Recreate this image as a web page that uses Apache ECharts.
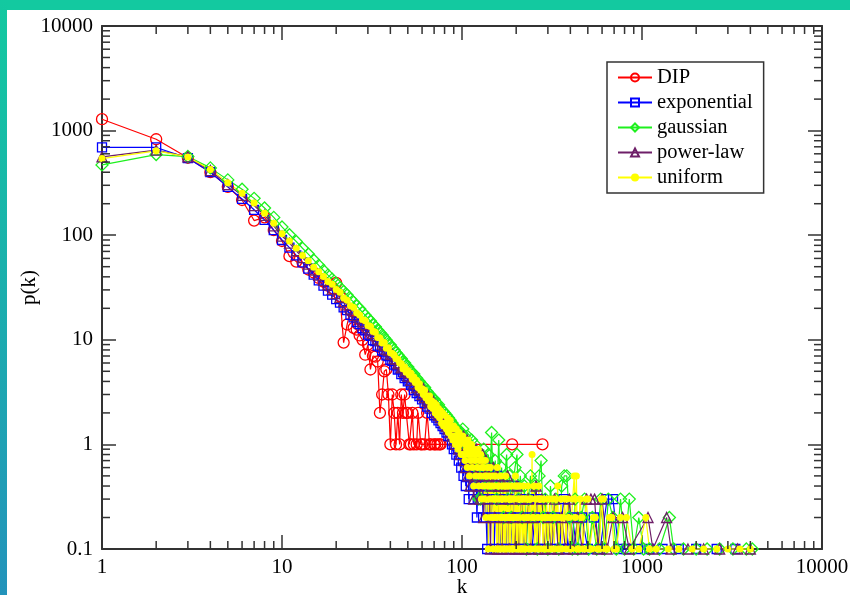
<!DOCTYPE html>
<html><head><meta charset="utf-8">
<script src="https://cdn.jsdelivr.net/npm/echarts@6/dist/echarts.min.js"></script>
<style>
html,body{margin:0;padding:0;background:#fff;}
#wrap{position:relative;width:850px;height:595px;overflow:hidden;background:#fff;}
#topbar{position:absolute;left:0;top:0;width:850px;height:10px;background:#13c9a0;}
#leftbar{position:absolute;left:0;top:0;width:7px;height:595px;background:linear-gradient(#13c9a0,#2393bb);}
#chart{position:absolute;left:0;top:0;width:850px;height:595px;}
</style></head>
<body><div id="wrap"><div id="topbar"></div><div id="leftbar"></div><div id="chart"></div></div>
<script>
// ---- tick labels ----
const xTicks = [1, 10, 100, 1000, 10000];
const yTicks = [0.1, 1, 10, 100, 1000, 10000];
const seriesNames = ['DIP', 'exponential', 'gaussian', 'power-law', 'uniform'];

// ---- DIP: [k, p(k)] ----
const dip = [[1,1285],[2,827],[3,550],[4,400],[5,290],[6,217],[7,138],[8,148],[9,112],[10,88],
[11,63],[12,56],[13,55],[14,47],[15,44],[16,39],[17,36],[18,33],[19,31],[20,35],
[21,26],[22,9.4],[23,14],[24,19],[25,13],[26,12.5],[27,11],[28,10],[29,7.2],[30,9],
[31,5.2],[32,7],[33,6.9],[34,6.2],[35,2],[36,3],[37,5],[38,5.2],[39,3],[40,1],
[41,3],[42,2],[43,1],[44,2],[45,1],[46,3],[47,2],[48,3],[49,2],[50,2],
[51,1],[52,1],[53,2],[54,1],[56,1],[57,2],[59,1],[60,1],[62,1],[64,2],[66,1],[67,1],[70,1],[71,1],[73,1],[75,1],[76,1],
[190,1],[280,1]];

// ---- exponential: p(k) for k = 1..100, then sparse tail [k, p] ----
const expoHead = [690,690,545,400,290,222,175,140,112,90,
76,64,55,48,42,37,33,29.5,27,24.5,
22.7,20.4,19.2,17.3,16.4,14.8,14.1,12.9,12.3,11.2,
10.9,9.9,9.7,8.8,8.6,7.9,7.7,7.1,7.0,6.4,
6.3,5.8,5.7,5.2,5.3,4.7,4.9,4.3,4.5,4.0,
4.1,3.7,3.8,3.3,3.6,3.1,3.3,2.9,3.1,2.7,
2.9,2.5,2.8,2.3,2.6,2.2,2.5,2.0,2.3,1.9,
2.2,1.8,2.0,1.7,1.9,1.6,1.8,1.5,1.7,1.4,
1.6,1.3,1.5,1.2,1.4,1.2,1.3,1.0,1.2,0.9,
1.1,1.0,0.8,1.1,0.9,0.7,1.0,0.8,0.6,0.9];
const expoTail = [[101,0.7],[102,0.5],[103,0.8],[104,0.6],[105,0.4],[106,0.7],[107,0.5],[108,0.8],[109,0.3],[110,0.6],
[112,0.4],[113,0.7],[115,0.5],[116,0.3],[118,0.6],[120,0.4],[121,0.2],[123,0.5],[125,0.3],[127,0.6],
[129,0.4],[131,0.2],[133,0.5],[135,0.3],[138,0.1],[140,0.4],[142,0.6],[145,0.2],[148,0.4],[151,0.1],
[154,0.3],[157,0.5],[161,0.2],[165,0.1],[168,0.3],[172,0.4],[176,0.1],[181,0.3],[186,0.2],[191,0.1],
[196,0.4],[202,0.2],[208,0.1],[214,0.3],[221,0.1],[228,0.2],[236,0.3],[245,0.1],[254,0.2],[264,0.1],
[275,0.3],[288,0.1],[300,0.2],[315,0.1],[330,0.2],[348,0.1],[367,0.3],[388,0.1],[410,0.2],[435,0.1],
[465,0.2],[500,0.1],[540,0.2],[585,0.1],[640,0.3],[690,0.3],[740,0.1],[820,0.1],[950,0.1],[1100,0.1],
[1300,0.1],[1600,0.1],[2000,0.1],[2600,0.1],[3300,0.1]];

// ---- gaussian ----
const gaussHead = [470,590,565,440,338,275,225,182,148,120,
101,87,75,66,58,51.5,46,41.5,38,34.5,
31.5,29,26.8,24.5,22.9,21,19.8,18.2,17.2,16,
15.1,14,13.3,12.4,11.7,11.1,10.4,9.9,9.2,8.9,
8.3,8.0,7.5,7.2,6.8,6.6,6.1,6.0,5.6,5.5,
5.1,5.0,4.6,4.7,4.2,4.3,3.9,4.0,3.6,3.7,
3.3,3.5,3.1,3.2,2.9,3.0,2.7,2.8,2.5,2.7,
2.4,2.5,2.2,2.4,2.1,2.2,1.9,2.1,1.8,2.0,
1.7,1.9,1.6,1.8,1.5,1.7,1.4,1.6,1.3,1.5,
1.3,1.4,1.2,1.4,1.1,1.3,1.2,1.0,1.3,1.1];
const gaussTail = [[101,1.4],[102,1.0],[103,1.2],[104,0.9],[105,1.1],[106,0.8],[107,1.2],[108,0.9],[109,0.7],[110,1.0],
[112,0.8],[113,1.1],[114,0.6],[115,0.9],[116,0.7],[118,1.0],[119,0.5],[120,0.8],[122,0.6],[124,0.3],
[125,0.7],[127,0.3],[128,0.8],[130,0.6],[132,0.9],[134,0.5],[136,0.7],[138,0.4],[140,0.8],[143,0.5],
[146,1.3],[148,0.6],[150,0.4],[153,0.7],[156,0.3],[160,1.1],[163,0.4],[166,0.6],[170,0.2],[173,0.5],
[177,0.8],[180,0.3],[184,0.5],[188,0.2],[192,0.4],[197,0.6],[202,0.8],[206,0.3],[211,0.5],[216,0.2],
[222,0.4],[228,0.1],[234,0.3],[240,0.5],[247,0.2],[254,0.4],[262,0.1],[268,0.5],[275,0.7],[282,0.2],
[290,0.3],[300,0.1],[310,0.4],[320,0.2],[332,0.3],[345,0.1],[358,0.4],[370,0.5],[382,0.5],[395,0.2],
[410,0.1],[425,0.3],[440,0.1],[460,0.2],[480,0.3],[505,0.1],[530,0.2],[560,0.1],[590,0.3],[620,0.1],
[650,0.3],[690,0.2],[720,0.1],[760,0.3],[800,0.1],[850,0.3],[900,0.1],[960,0.2],[1020,0.1],[1100,0.1],
[1250,0.1],[1420,0.2],[1500,0.1],[1700,0.1],[2000,0.1],[2300,0.1],[2700,0.1],[3200,0.1],[3800,0.1],[4100,0.1]];

// ---- power-law ----
const powHead = [560,650,560,415,305,240,192,155,123,98,
84,71,61,53,46.5,41.5,37,33.5,30.4,27.6,
25.5,23.2,21.6,19.7,18.6,17.0,16.1,14.9,14.0,13.1,
12.4,11.5,11.0,10.2,9.8,9.1,8.8,8.1,7.9,7.3,
7.2,6.6,6.5,5.9,6.0,5.4,5.5,4.9,5.1,4.5,
4.8,4.1,4.4,3.8,4.1,3.5,3.8,3.3,3.6,3.0,
3.4,2.8,3.1,2.6,2.9,2.5,2.7,2.3,2.6,2.2,
2.4,2.0,2.3,1.9,2.1,1.8,2.0,1.7,1.9,1.6,
1.8,1.5,1.7,1.4,1.6,1.3,1.5,1.2,1.4,1.1,
1.4,1.0,1.3,1.1,1.2,0.9,1.2,0.8,1.1,1.0];
const powTail = [[101,0.9],[102,1.2],[103,0.7],[104,1.0],[105,0.6],[106,0.9],[107,1.1],[108,0.5],[109,0.8],[110,0.7],
[111,0.4],[112,0.9],[114,0.6],[115,0.8],[116,0.3],[117,0.7],[119,0.5],[120,0.9],[122,0.4],[124,0.7],
[126,0.3],[128,0.6],[130,0.8],[132,0.2],[134,0.5],[136,0.7],[139,0.3],[141,0.5],[144,0.1],[146,0.4],
[149,0.6],[152,0.2],[155,0.5],[158,0.1],[161,0.4],[164,0.3],[167,0.1],[171,0.4],[175,0.2],[179,0.5],
[183,0.1],[187,0.3],[192,0.2],[197,0.1],[202,0.4],[207,0.1],[213,0.3],[219,0.2],[226,0.1],[233,0.3],
[241,0.1],[249,0.2],[258,0.4],[267,0.1],[277,0.3],[288,0.1],[300,0.2],[313,0.1],[327,0.3],[342,0.1],
[358,0.2],[376,0.1],[395,0.3],[416,0.1],[440,0.2],[465,0.1],[492,0.3],[520,0.3],[545,0.3],[570,0.1],
[600,0.3],[640,0.1],[690,0.2],[780,0.2],[850,0.1],[1080,0.2],[1150,0.1],[1370,0.2],[1450,0.1],[1800,0.1],
[2200,0.1],[2700,0.1],[3400,0.1],[4000,0.1]];

// ---- uniform ----
const unifHead = [540,640,560,425,318,252,203,162,130,103,
88,75,64,57,49.5,44.8,40.2,36.1,33.9,30.2,
28.5,25.1,23.9,21.2,20.4,18.1,17.3,15.6,15.2,13.7,
13.4,12.1,11.8,10.5,10.4,9.3,9.4,8.3,8.4,7.5,
7.4,7.1,6.6,6.5,6.0,5.9,5.3,5.5,4.9,5.1,
4.6,4.8,4.2,4.4,3.9,4.1,3.5,3.8,3.3,3.4,
3.0,3.3,2.8,2.9,2.6,2.9,2.3,2.6,2.2,2.5,
2.0,2.4,1.9,2.2,1.8,2.1,1.6,2.0,1.5,1.9,
1.6,1.4,1.8,1.3,1.5,1.7,1.2,1.4,1.1,1.5,
1.2,1.0,1.4,1.1,0.9,1.3,1.0,1.2,0.8,1.1];
const unifTail = [[101,1.2],[102,0.8],[103,1.1],[104,0.7],[105,1.0],[106,0.9],[107,0.6],[108,1.1],[109,0.8],[110,0.5],
[111,0.9],[112,0.7],[113,1.0],[114,0.6],[115,0.8],[116,0.4],[117,0.9],[118,0.7],[119,0.5],[120,0.8],
[122,0.6],[123,0.9],[124,0.4],[125,0.7],[126,0.5],[127,0.8],[128,0.3],[129,0.6],[130,0.7],[131,0.4],
[132,0.6],[133,0.3],[134,0.5],[135,0.7],[136,0.2],[137,0.5],[138,0.4],[139,0.6],[140,0.1],[141,0.4],
[142,0.5],[143,0.3],[144,0.6],[145,0.2],[146,0.4],[147,0.3],[148,0.5],[149,0.1],[150,0.4],[151,0.2],
[152,0.3],[153,0.5],[154,0.2],[155,0.3],[156,0.1],[157,0.6],[158,0.1],[159,0.4],[160,0.3],[161,0.4],
[162,0.1],[163,0.2],[164,0.5],[165,0.3],[166,0.1],[167,0.3],[168,0.2],[169,0.4],[170,0.2],[171,0.1],
[172,0.3],[173,0.4],[174,0.1],[175,0.5],[176,0.2],[177,0.3],[178,0.1],[179,0.2],[180,0.4],[181,0.4],
[182,0.2],[183,0.1],[184,0.3],[185,0.3],[186,0.1],[187,0.2],[188,0.3],[189,0.4],[190,0.2],[191,0.1],
[192,0.3],[193,0.3],[194,0.1],[196,0.2],[197,0.4],[198,0.5],[199,0.2],[201,0.1],[202,0.4],[203,0.3],
[204,0.1],[206,0.2],[207,0.4],[209,0.4],[210,0.1],[212,0.1],[213,0.3],[215,0.3],[216,0.1],[218,0.2],
[219,0.4],[221,0.1],[222,0.3],[224,0.3],[226,0.1],[228,0.2],[230,0.3],[232,0.4],[234,0.2],[236,0.1],
[238,0.3],[240,0.3],[242,0.1],[245,0.8],[247,0.2],[249,0.2],[251,0.4],[254,0.1],[256,0.3],[259,0.3],
[261,0.1],[264,0.2],[267,0.4],[270,0.1],[273,0.3],[276,0.3],[279,0.2],[282,0.1],[285,0.3],[288,0.2],
[291,0.1],[295,0.3],[298,0.2],[302,0.1],[306,0.3],[310,0.2],[314,0.1],[318,0.3],[322,0.2],[326,0.1],
[330,0.3],[335,0.2],[340,0.4],[345,0.1],[350,0.2],[355,0.3],[360,0.1],[366,0.2],[372,0.3],[378,0.1],
[384,0.3],[390,0.2],[397,0.1],[405,0.1],[412,0.3],[420,0.5],[426,0.2],[432,0.5],[438,0.1],[445,0.1],
[453,0.3],[462,0.2],[470,0.1],[480,0.1],[490,0.3],[500,0.3],[512,0.1],[525,0.1],[537,0.2],[550,0.2],
[565,0.1],[580,0.1],[595,0.3],[610,0.3],[625,0.1],[640,0.1],[660,0.2],[680,0.2],[700,0.1],[720,0.1],
[760,0.2],[820,0.2],[880,0.1],[960,0.1],[1050,0.2],[1100,0.1],[1200,0.1],[1400,0.1],[1600,0.1],[1900,0.1],
[2200,0.1],[2600,0.1],[3000,0.1],[3500,0.1],[4000,0.1]];

function withK(head, tail) {
  return head.map((p, i) => [i + 1, p]).concat(tail);
}

const serif = 'Liberation Serif';
const axisColor = '#333';

function lineSeries(name, color, symbol, size, data, filled) {
  return {
    name: name, type: 'line', data: data, clip: false,
    symbol: symbol, symbolSize: size, showSymbol: true,
    lineStyle: { color: color, width: 1.2 },
    itemStyle: filled ? { color: color } :
      { color: 'rgba(255,255,255,0)', borderColor: color, borderWidth: 1.3 },
    emphasis: { disabled: true },
    animation: false
  };
}

// minor tick positions (2..9 per decade)
const xMinor = [], yMinor = [];
for (let d = 0; d < 4; d++) for (let m = 2; m < 10; m++) xMinor.push([+(m * Math.pow(10, d)).toPrecision(3), 1]);
for (let d = -1; d < 4; d++) for (let m = 2; m < 10; m++) yMinor.push([1, +(m * Math.pow(10, d)).toPrecision(3)]);

const tickStyle = { stroke: axisColor, lineWidth: 1.5 };
const minorLen = 8;

function fmt(v) { return String(parseFloat(Number(v).toPrecision(4))); }

const chart = echarts.init(document.getElementById('chart'), null, { renderer: 'canvas' });
const option = {
  animation: false,
  grid: { left: 102, right: 28, top: 26, bottom: 46, containLabel: false, outerBoundsMode: 'none' },
  legend: {
    data: seriesNames, orient: 'vertical', left: 607, top: 62,
    padding: [5, 11, 5, 10], itemGap: 4, itemWidth: 34, itemHeight: 10,
    borderColor: '#333', borderWidth: 1.5, backgroundColor: '#fff',
    textStyle: { fontFamily: serif, fontSize: 20.5, color: '#000' },
    selectedMode: false
  },
  xAxis: [{
    type: 'log', logBase: 10, min: xTicks[0], max: xTicks[xTicks.length - 1], interval: 1,
    position: 'bottom', name: 'k', nameLocation: 'middle', nameGap: 28, nameMoveOverlap: false,
    nameTextStyle: { fontFamily: serif, fontSize: 21, color: '#000' },
    axisLine: { show: true, lineStyle: { color: axisColor, width: 2 } },
    axisTick: { show: true, inside: true, length: 14, lineStyle: { color: axisColor, width: 1.5 } },
    axisLabel: { fontFamily: serif, fontSize: 21, color: '#000', margin: 8, formatter: fmt },
    splitLine: { show: false }
  }, {
    type: 'log', logBase: 10, min: xTicks[0], max: xTicks[xTicks.length - 1], interval: 1,
    position: 'top',
    axisLine: { show: true, lineStyle: { color: axisColor, width: 2 } },
    axisTick: { show: true, inside: true, length: 14, lineStyle: { color: axisColor, width: 1.5 } },
    axisLabel: { show: false }, splitLine: { show: false }
  }],
  yAxis: [{
    type: 'log', logBase: 10, min: yTicks[0], max: yTicks[yTicks.length - 1], interval: 1,
    position: 'left', name: 'p(k)', nameLocation: 'middle', nameGap: 62, nameMoveOverlap: false,
    nameTextStyle: { fontFamily: serif, fontSize: 21, color: '#000' },
    axisLine: { show: true, lineStyle: { color: axisColor, width: 2 } },
    axisTick: { show: true, inside: true, length: 14, lineStyle: { color: axisColor, width: 1.5 } },
    axisLabel: { fontFamily: serif, fontSize: 21, color: '#000', margin: 9, formatter: fmt },
    splitLine: { show: false }
  }, {
    type: 'log', logBase: 10, min: yTicks[0], max: yTicks[yTicks.length - 1], interval: 1,
    position: 'right',
    axisLine: { show: true, lineStyle: { color: axisColor, width: 2 } },
    axisTick: { show: true, inside: true, length: 14, lineStyle: { color: axisColor, width: 1.5 } },
    axisLabel: { show: false }, splitLine: { show: false }
  }],
  series: [
    lineSeries('DIP', '#ff0000', 'circle', 11, dip, false),
    lineSeries('exponential', '#0000ff', 'rect', 9, withK(expoHead, expoTail), false),
    lineSeries('gaussian', '#1ef01e', 'diamond', 12, withK(gaussHead, gaussTail), false),
    lineSeries('power-law', '#6e1f68', 'triangle', 10, withK(powHead, powTail), false),
    lineSeries('uniform', '#ffff00', 'circle', 7, withK(unifHead, unifTail), true),
    {
      type: 'custom', silent: true, clip: false, z: 10, data: xMinor,
      renderItem: function (params, api) {
        const v = api.value(0);
        const b = api.coord([v, yTicks[0]]);
        const t = api.coord([v, yTicks[yTicks.length - 1]]);
        return { type: 'group', children: [
          { type: 'line', shape: { x1: b[0], y1: b[1], x2: b[0], y2: b[1] - minorLen }, style: tickStyle },
          { type: 'line', shape: { x1: t[0], y1: t[1], x2: t[0], y2: t[1] + minorLen }, style: tickStyle }
        ] };
      }
    },
    {
      type: 'custom', silent: true, clip: false, z: 10, data: yMinor,
      renderItem: function (params, api) {
        const v = api.value(1);
        const l = api.coord([xTicks[0], v]);
        const r = api.coord([xTicks[xTicks.length - 1], v]);
        return { type: 'group', children: [
          { type: 'line', shape: { x1: l[0], y1: l[1], x2: l[0] + minorLen, y2: l[1] }, style: tickStyle },
          { type: 'line', shape: { x1: r[0], y1: r[1], x2: r[0] - minorLen, y2: r[1] }, style: tickStyle }
        ] };
      }
    }
  ]
};
chart.setOption(option);
</script>
</body></html>
